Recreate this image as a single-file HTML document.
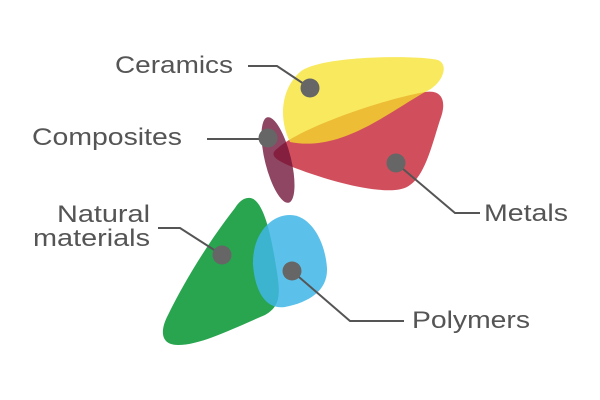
<!DOCTYPE html>
<html><head><meta charset="utf-8"><style>
html,body{margin:0;padding:0;background:#fff;}
svg{display:block}
text{font-family:"Liberation Sans",sans-serif;font-size:24px;fill:#555;}
</style></head><body>
<svg width="600" height="400" viewBox="0 0 600 400" xmlns="http://www.w3.org/2000/svg">
<path d="M278 148 C300 128,380 100,425 92 C445 89,446 105,440 120 C432 145,425 175,410 185 C395 198,340 185,295 168 C275 160,268 155,278 148 Z" fill="#c41e2f" opacity="0.78"/>
<path d="M290 142 C279 120,280 90,300 72 C320 55,420 55,438 60 C450 65,442 85,425 92 C385 115,340 152,290 142 Z" fill="#f5e22a" opacity="0.75"/>
<ellipse cx="278" cy="160" rx="13" ry="44" transform="rotate(-14 278 160)" fill="#6e1237" opacity="0.78"/>
<path d="M248 198 C262 196,270 230,275 260 C280 290,283 305,265 315 C230 330,200 345,178 345 C160 345,160 330,168 315 C185 280,210 240,235 208 C240 200,245 198,248 198 Z" fill="#1ea046" opacity="0.95"/>
<path d="M290 215 C310 215,325 240,327 268 C328 290,310 302,285 307 C265 310,255 290,253 265 C252 235,270 215,290 215 Z" fill="#3fb6e6" opacity="0.85"/>
<g stroke="#555" stroke-width="2" fill="none">
<polyline points="248,66 277,66 310,88"/>
<polyline points="207,139 268,139"/>
<polyline points="396,163 455,213 480,213"/>
<polyline points="158,228 180,228 222,255"/>
<polyline points="292,271 350,321 404,321"/>
</g>
<g fill="#666">
<circle cx="310" cy="88" r="9.5"/>
<circle cx="268" cy="138" r="9.5"/>
<circle cx="396" cy="163" r="9.5"/>
<circle cx="222" cy="255" r="9.5"/>
<circle cx="292" cy="271" r="9.5"/>
</g>
<text x="115" y="73" textLength="118" lengthAdjust="spacingAndGlyphs">Ceramics</text>
<text x="32" y="145" textLength="150" lengthAdjust="spacingAndGlyphs">Composites</text>
<text x="57" y="222" textLength="93" lengthAdjust="spacingAndGlyphs">Natural</text>
<text x="33" y="246" textLength="117" lengthAdjust="spacingAndGlyphs">materials</text>
<text x="484" y="221" textLength="84" lengthAdjust="spacingAndGlyphs">Metals</text>
<text x="412" y="328" textLength="118" lengthAdjust="spacingAndGlyphs">Polymers</text>
</svg>
</body></html>
